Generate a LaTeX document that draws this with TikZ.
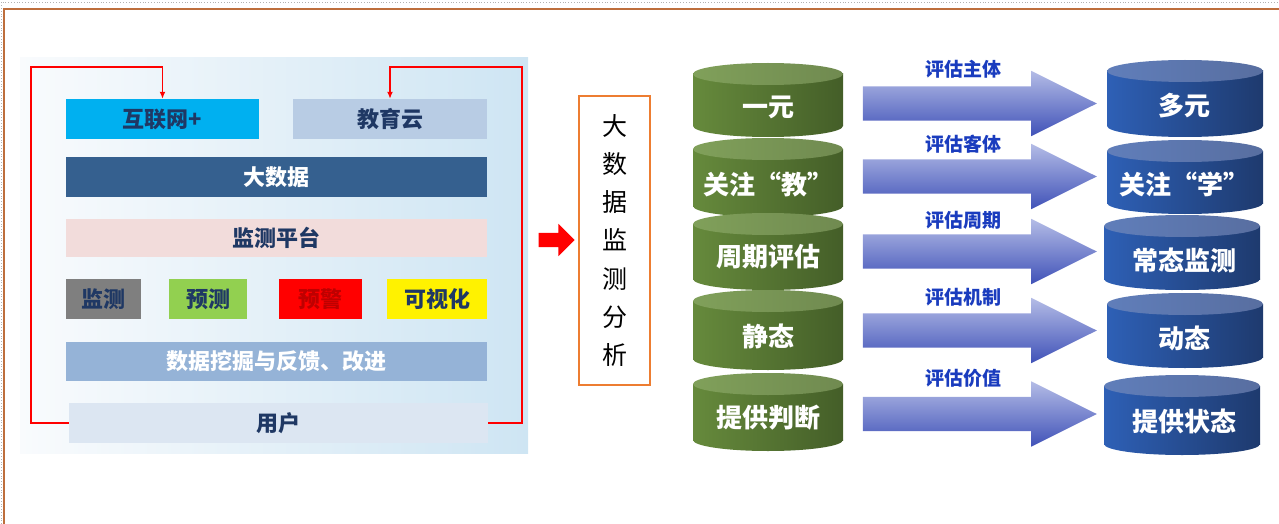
\documentclass[tikz,border=0pt]{standalone}
\usepackage{fontspec}
\setmainfont{Noto Sans CJK SC}
\usetikzlibrary{shapes.arrows,arrows.meta,positioning,calc}

\definecolor{navy}{HTML}{1F3864}
\definecolor{framebrown}{HTML}{BE6E3C}
\definecolor{frameorange}{HTML}{ED7D31}
\definecolor{evalblue}{HTML}{1A3CBE}

% cylinder: centre x, top y, bottom y, half width, body style, cap style
\newcommand{\drawcyl}[6]{%
  \shade[#5] (#1-#4,#2+11) rectangle (#1+#4,#3-11);
  \shade[#5] (#1,#3-11) ellipse[x radius=#4pt, y radius=11pt];
  \shade[#6] (#1,#2+11) ellipse[x radius=#4pt, y radius=11pt];
}

\begin{document}
\begin{tikzpicture}[x=1pt, y=-1pt,
  > = latex,
  box/.style = {minimum width=#1, minimum height=40pt, inner sep=0pt, text=navy,
    font=\bfseries\fontsize{22}{26}\selectfont},
  loop/.style = {draw=red, line width=1.8pt, -{Latex[length=7pt,width=6pt]}},
  gbody/.style = {left color={rgb,255:red,102;green,138;blue,60}, middle color={rgb,255:red,150;green,190;blue,95}, right color={rgb,255:red,68;green,94;blue,40}},
  gcap/.style = {left color={rgb,255:red,128;green,160;blue,90}, middle color={rgb,255:red,198;green,222;blue,164}, right color={rgb,255:red,112;green,138;blue,80}},
  bbody/.style = {left color={rgb,255:red,46;green,96;blue,182}, middle color={rgb,255:red,66;green,132;blue,226}, right color={rgb,255:red,30;green,58;blue,110}},
  bcap/.style = {left color={rgb,255:red,96;green,126;blue,186}, middle color={rgb,255:red,156;green,186;blue,232}, right color={rgb,255:red,88;green,110;blue,160}},
  cyltext/.style = {text=white, font=\bfseries\fontsize{26}{30}\selectfont},
  evalarrow/.style = {single arrow, single arrow tip angle=53, single arrow head extend=15.5pt,
    minimum height=234pt, inner sep=0pt, text height=17pt, text depth=17pt,
    top color={rgb,255:red,180;green,188;blue,230}, bottom color={rgb,255:red,64;green,82;blue,184}},
  evallabel/.style = {text=evalblue, font=\bfseries\fontsize{19}{22}\selectfont}
  ]
  \useasboundingbox (0,0) rectangle (1279,524);

  % frame
  \draw[gray!60, dotted, line width=0.8pt] (1,524) -- (1,2) -- (1279,2);
  \draw[framebrown, line width=1.5pt] (4,524) -- (4,9) -- (1279,9);

  % left panel
  \shade[left color={rgb,255:red,249;green,251;blue,253}, right color={rgb,255:red,206;green,229;blue,243}] (20,58) rectangle (528,453);

  \node[box=193pt, fill={rgb,255:red,0;green,176;blue,240}] (hulian) at (162.5,119) {互联网+};
  \node[box=194pt, fill={rgb,255:red,184;green,204;blue,228}] (jiaoyu) at (390,119) {教育云};
  \node[box=421pt, fill={rgb,255:red,53;green,96;blue,143}, text=white] (dashuju) at (276.5,177) {大数据};
  \node[box=421pt, minimum height=38pt, fill={rgb,255:red,242;green,220;blue,219}] (pingtai) at (276.5,238) {监测平台};
  \node[box=75pt, fill={rgb,255:red,127;green,127;blue,127}] (jiance) at (103.5,299) {监测};
  \node[box=78pt, fill={rgb,255:red,146;green,208;blue,80}] (yuce) at (208,299) {预测};
  \node[box=83pt, fill=red, text={rgb,255:red,190;green,0;blue,0}] (yujing) at (320.5,299) {预警};
  \node[box=100pt, fill=yellow] (keshi) at (437,299) {可视化};
  \node[box=421pt, minimum height=39pt, fill={rgb,255:red,149;green,179;blue,215}, text=white] (wajue) at (276.5,361.5) {数据挖掘与反馈、改进};
  \node[box=419pt, fill={rgb,255:red,220;green,230;blue,242}] (yonghu) at (278.5,423) {用户};

  \coordinate (lc) at (31,67);
  \coordinate (rc) at (522,67);
  \draw[loop] (yonghu.west) -| (lc) -| (hulian.north);
  \draw[loop] (yonghu.east) -| (rc) -| (jiaoyu.north);

  % red arrow and analysis box
  \node[single arrow, fill=red, minimum height=36pt, text height=7pt, text depth=7pt,
    single arrow head extend=9pt, inner sep=0pt] (redarrow) at (553,240) {};
  \node[draw=frameorange, line width=2pt, minimum width=71pt, minimum height=289pt,
    align=center, font=\fontsize{25}{38.3}\selectfont] (fenxi) at (614.5,240.5)
    {大\\数\\据\\监\\测\\分\\析};

  % green cylinders
  \drawcyl{768}{63}{137}{75}{gbody}{gcap}
  \drawcyl{768}{138}{217}{75}{gbody}{gcap}
  \drawcyl{768}{213}{290}{75}{gbody}{gcap}
  \drawcyl{768}{290}{370}{75}{gbody}{gcap}
  \drawcyl{768}{373}{451}{75}{gbody}{gcap}

  % blue cylinders
  \drawcyl{1185}{60}{137}{78}{bbody}{bcap}
  \drawcyl{1185}{140}{214}{78}{bbody}{bcap}
  \drawcyl{1182}{215}{290}{78}{bbody}{bcap}
  \drawcyl{1185}{293}{368}{78}{bbody}{bcap}
  \drawcyl{1182}{375}{455}{78}{bbody}{bcap}

  \foreach \gname/\gtext/\bname/\btext/\gy/\by in {
      g1/一元/b1/多元/107/106,
      g2/关注“教”/b2/关注“学”/185/184,
      g3/周期评估/b3/常态监测/257/260,
      g4/静态/b4/动态/336/338,
      g5/提供判断/b5/提供状态/418/421}{
    \node[cyltext] (\gname) at (768,\gy) {\gtext};
    \node[cyltext] (\bname) at (1184,\by) {\btext};
  }

  % evaluation arrows
  \foreach \aname/\atext/\ay/\ly in {
      e1/评估主体/103.5/69,
      e2/评估客体/176.5/144,
      e3/评估周期/251.5/220,
      e4/评估机制/330.5/297,
      e5/评估价值/414/378}{
    \node[evalarrow] (\aname) at (962.5,\ay) {};
    \node[evallabel] at (963,\ly) {\atext};
  }

\end{tikzpicture}
\end{document}
